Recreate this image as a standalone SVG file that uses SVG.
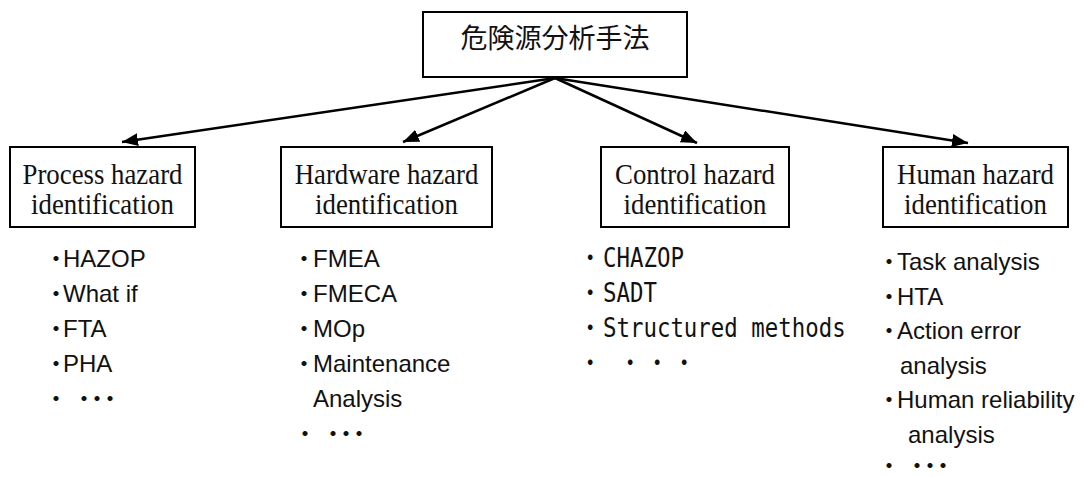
<svg xmlns="http://www.w3.org/2000/svg" width="1083" height="477" viewBox="0 0 1083 477">
<style>
.box{fill:#fff;stroke:#000;stroke-width:2}
.jp{font-family:"Noto Sans CJK JP","Noto Sans CJK SC",sans-serif;font-size:27px;text-anchor:middle;fill:#111}
.t{font-family:"Liberation Serif","Times New Roman",serif;font-size:26.8px;text-anchor:middle;fill:#111}
.li{font-family:"Liberation Sans","Noto Sans CJK JP",sans-serif;font-size:24px;fill:#111}
.mono{font-family:"DejaVu Sans Mono","Noto Sans CJK JP",monospace;font-size:22.4px;fill:#111}
.conn{stroke:#000;stroke-width:2.5;fill:none;marker-end:url(#ah)}
</style>
<defs>
<marker id="ah" markerUnits="userSpaceOnUse" markerWidth="18" markerHeight="14" refX="16" refY="6.5" orient="auto">
<path d="M0,0 L16,6.5 L0,13 z" fill="#000"/>
</marker>
</defs>
<rect width="1083" height="477" fill="#fff"/>
<g id="connectors">
<line class="conn" x1="555" y1="78" x2="122" y2="142"/>
<line class="conn" x1="555" y1="78" x2="403" y2="142"/>
<line class="conn" x1="555" y1="78" x2="697" y2="143"/>
<line class="conn" x1="555" y1="78" x2="968" y2="143"/>
</g>
<g id="root">
<rect class="box" x="423" y="12" width="264" height="65"/>
<text class="jp" x="555" y="48">危険源分析手法</text>
</g>
<g id="process">
<rect class="box" x="10" y="147" width="185" height="80"/>
<text class="t" transform="translate(102.5,184) scale(1,1.1)">Process hazard</text>
<text class="t" transform="translate(102.5,214) scale(1,1.1)">identification</text>
</g>
<g id="hardware">
<rect class="box" x="281" y="147" width="211" height="80"/>
<text class="t" transform="translate(386.5,184) scale(1,1.1)">Hardware hazard</text>
<text class="t" transform="translate(386.5,214) scale(1,1.1)">identification</text>
</g>
<g id="control">
<rect class="box" x="601" y="147" width="188" height="80"/>
<text class="t" transform="translate(695,184) scale(1,1.1)">Control hazard</text>
<text class="t" transform="translate(695,214) scale(1,1.1)">identification</text>
</g>
<g id="human">
<rect class="box" x="883" y="147" width="185" height="80"/>
<text class="t" transform="translate(975.5,184) scale(1,1.1)">Human hazard</text>
<text class="t" transform="translate(975.5,214) scale(1,1.1)">identification</text>
</g>
<g id="process-list">
<text class="li" x="44 63" y="267">・HAZOP</text>
<text class="li" x="44 63" y="302">・What if</text>
<text class="li" x="44 63" y="337">・FTA</text>
<text class="li" x="44 63" y="372">・PHA</text>
<text class="li" x="44 60 72 85 98" y="407">・ ・・・</text>
</g>
<g id="hardware-list">
<text class="li" x="292 313" y="267">・FMEA</text>
<text class="li" x="292 313" y="302">・FMECA</text>
<text class="li" x="292 313" y="337">・MOp</text>
<text class="li" x="292 313" y="372">・Maintenance</text>
<text class="li" x="313" y="407">Analysis</text>
<text class="li" x="293 310 321 334 347" y="442">・ ・・・</text>
</g>
<g id="control-list">
<text class="mono" transform="translate(0,267) scale(1,1.15)" x="579 603" y="0">・CHAZOP</text>
<text class="mono" transform="translate(0,302) scale(1,1.15)" x="579 603" y="0">・SADT</text>
<text class="mono" transform="translate(0,337) scale(1,1.15)" x="579 603" y="0">・Structured methods</text>
<text class="mono" transform="translate(0,372) scale(1,1.15)" x="579 605 619 646 673" y="0">・ ・・・</text>
</g>
<g id="human-list">
<text class="li" x="877 897" y="270">・Task analysis</text>
<text class="li" x="877 897" y="304.5">・HTA</text>
<text class="li" x="877 897" y="339">・Action error</text>
<text class="li" x="900" y="373.5">analysis</text>
<text class="li" x="877 897" y="408">・Human reliability</text>
<text class="li" x="908" y="442.5">analysis</text>
<text class="li" x="877 895 905 918 931" y="474">・ ・・・</text>
</g>
</svg>
